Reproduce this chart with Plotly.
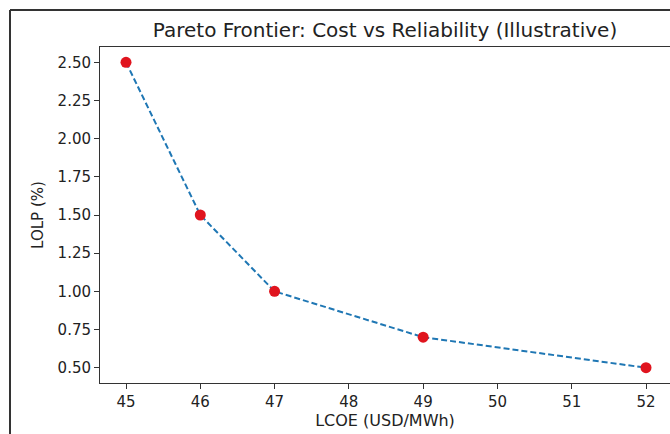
import plotly.graph_objects as go

lcoe = [45, 46, 47, 49, 52]
lolp = [2.5, 1.5, 1.0, 0.7, 0.5]
x_ticks = [45, 46, 47, 48, 49, 50, 51, 52]
y_ticks = [0.5, 0.75, 1.0, 1.25, 1.5, 1.75, 2.0, 2.25, 2.5]
y_tick_text = ["0.50", "0.75", "1.00", "1.25", "1.50", "1.75", "2.00", "2.25", "2.50"]

W, H = 670, 434
L, R, T, B = 100, 0, 47, 51
pw, ph = W - L - R, H - T - B

def px(x):
    return (x - L) / pw

def py(y):
    return (H - B - y) / ph

FONT = "DejaVu Sans"
TXT = "#222222"

fig = go.Figure()
fig.add_trace(go.Scatter(
    x=lcoe, y=lolp, mode="lines",
    line=dict(color="#1f77b4", width=2, dash="6px,3px"),
    showlegend=False, hoverinfo="skip"))
fig.add_trace(go.Scatter(
    x=lcoe, y=lolp, mode="markers",
    marker=dict(color="#e0141e", size=11),
    showlegend=False))

axis_common = dict(
    showgrid=False, zeroline=False, showline=True, linecolor="#333333",
    linewidth=1, mirror=True, ticks="outside", ticklen=5, tickcolor="#333333",
    tickfont=dict(family=FONT, size=15, color=TXT),
)
fig.update_xaxes(range=[44.65, 52.323], tickvals=x_ticks,
                 title=dict(text="LCOE (USD/MWh)", font=dict(family=FONT, size=16, color=TXT), standoff=4),
                 **axis_common)
fig.update_yaxes(range=[0.4, 2.6], tickvals=y_ticks, ticktext=y_tick_text,
                 title=dict(text="LOLP (%)", font=dict(family=FONT, size=15, color=TXT), standoff=10),
                 **axis_common)

fig.update_layout(
    width=W, height=H,
    margin=dict(l=L, r=R, t=T, b=B),
    paper_bgcolor="white", plot_bgcolor="white",
    title=dict(text="Pareto Frontier: Cost vs Reliability (Illustrative)",
               font=dict(family=FONT, size=20, color=TXT),
               x=px(385), xref="paper", xanchor="center", y=1 - 30 / H, yanchor="middle"),
    shapes=[
        dict(type="line", xref="paper", yref="paper", x0=px(10), x1=px(10), y0=py(10), y1=py(440),
             line=dict(color="#333333", width=2)),
        dict(type="line", xref="paper", yref="paper", x0=px(10), x1=px(680), y0=py(10), y1=py(10),
             line=dict(color="#333333", width=2)),
    ],
)

fig.write_html("out.html", config={"displayModeBar": False},
               post_script="document.body.style.margin='0';document.body.style.overflow='hidden';")
